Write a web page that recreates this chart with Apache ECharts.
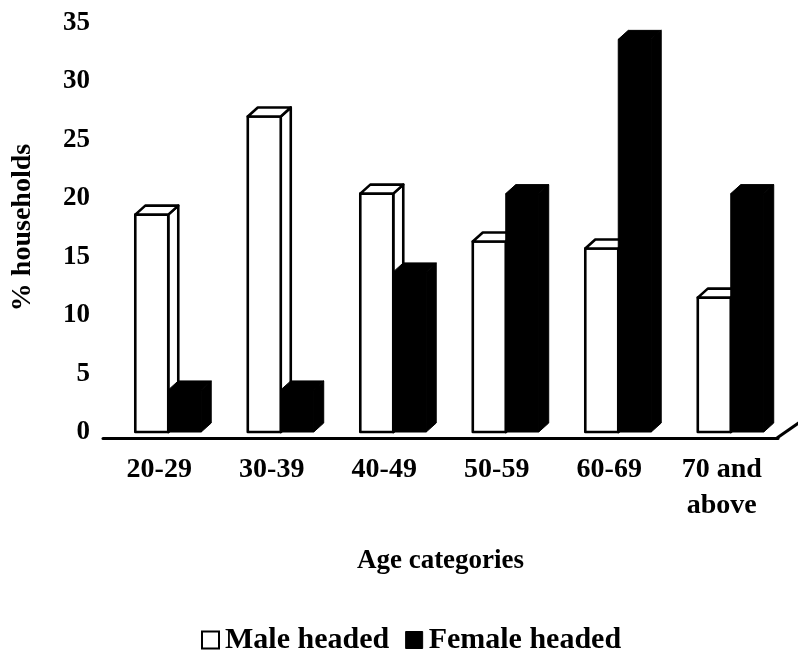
<!DOCTYPE html>
<html>
<head>
<meta charset="utf-8">
<script src="https://cdn.jsdelivr.net/npm/echarts@6/dist/echarts.min.js"></script>
<style>html,body{margin:0;padding:0;background:#fff;}#c{width:798px;height:651px;}</style>
</head>
<body>
<div id="c"></div>
<script>
var categories = ['20-29', '30-39', '40-49', '50-59', '60-69', '70 and\nabove'];
var maleHeaded = [18.6, 27.0, 20.4, 16.3, 15.7, 11.5];
var femaleHeaded = [3.6, 3.6, 13.7, 20.4, 33.6, 20.4];
var yMin = 0, yMax = 35, yStep = 5;
var seriesNames = ['Male headed', 'Female headed'];

var FONT = '"Liberation Serif", "Times New Roman", serif';

function makeRender(isMale) {
  return function (params, api) {
    var idx = api.value(0), val = api.value(1);
    var top = api.coord([idx, val]);
    var base = api.coord([idx, 0]);
    var band = api.size([1, 0])[0];
    var c = top[0];
    var w = band * 0.293;
    var dx = band * 0.089;
    var dy = 9;
    var x0 = isMale ? c - band * 0.213 : c + band * 0.08;
    var yT = top[1], yB = base[1];
    var fill = isMale ? '#fff' : '#000';
    var lw = isMale ? 2.6 : 1;
    var st = { fill: fill, stroke: '#000', lineWidth: lw, lineJoin: 'round' };
    return {
      type: 'group',
      children: [
        { type: 'polygon', shape: { points: [[x0 + w, yT], [x0 + w + dx, yT - dy], [x0 + w + dx, yB - dy], [x0 + w, yB]] }, style: st },
        { type: 'rect', shape: { x: x0, y: yT, width: w, height: yB - yT }, style: st },
        { type: 'polygon', shape: { points: [[x0, yT], [x0 + dx, yT - dy], [x0 + w + dx, yT - dy], [x0 + w, yT]] }, style: st }
      ]
    };
  };
}

function toData(arr) { return arr.map(function (v, i) { return [i, v]; }); }

var chart = echarts.init(document.getElementById('c'), null, { renderer: 'canvas' });
var option = {
  backgroundColor: '#fff',
  animation: false,
  textStyle: { fontFamily: FONT, color: '#000' },
  grid: { left: 103, right: 20, top: 23, bottom: 219 },
  xAxis: {
    type: 'category', data: categories,
    axisLine: { show: true, onZero: false, lineStyle: { color: '#000', width: 3 } },
    offset: 6,
    axisTick: { show: false }, splitLine: { show: false },
    axisLabel: { interval: 0, margin: 14, fontFamily: FONT, fontWeight: 'bold', fontSize: 28, color: '#000', lineHeight: 36 },
    name: 'Age categories', nameLocation: 'middle', nameGap: 110,
    nameTextStyle: { fontFamily: FONT, fontWeight: 'bold', fontSize: 27, color: '#000' }
  },
  yAxis: {
    type: 'value', min: yMin, max: yMax, interval: yStep,
    axisLine: { show: false }, axisTick: { show: false }, splitLine: { show: false },
    axisLabel: { margin: 13, fontFamily: FONT, fontWeight: 'bold', fontSize: 27, color: '#000' },
    name: '% households', nameLocation: 'middle', nameGap: 66,
    nameTextStyle: { fontFamily: FONT, fontWeight: 'bold', fontSize: 28, color: '#000' }
  },
  legend: {
    left: 196, top: 620,
    itemWidth: 17, itemHeight: 17, itemGap: 16,
    textStyle: { fontFamily: FONT, fontWeight: 'bold', fontSize: 30, color: '#000', padding: [0, 0, 0, 1] },
    data: [
      { name: seriesNames[0], icon: 'rect', itemStyle: { color: '#fff', borderColor: '#000', borderWidth: 2 } },
      { name: seriesNames[1], icon: 'rect', itemStyle: { color: '#000', borderColor: '#000', borderWidth: 1 } }
    ]
  },
  series: [
    {
      name: seriesNames[0], type: 'custom',
      renderItem: makeRender(true), data: toData(maleHeaded),
      itemStyle: { color: '#fff', borderColor: '#000' }
    },
    {
      name: seriesNames[1], type: 'custom',
      renderItem: makeRender(false), data: toData(femaleHeaded),
      itemStyle: { color: '#000' }
    }
  ]
};
chart.setOption(option);

// floor edge diagonal at the right end of the axis line
var zeroY = chart.convertToPixel({ yAxisIndex: 0 }, 0) + 6;
var rightX = 798 - 20;
chart.setOption({
  graphic: [{
    type: 'line', silent: true,
    shape: { x1: rightX - 1, y1: zeroY, x2: rightX + 22, y2: zeroY - 16 },
    style: { stroke: '#000', lineWidth: 3 }
  }]
});
</script>
</body>
</html>
